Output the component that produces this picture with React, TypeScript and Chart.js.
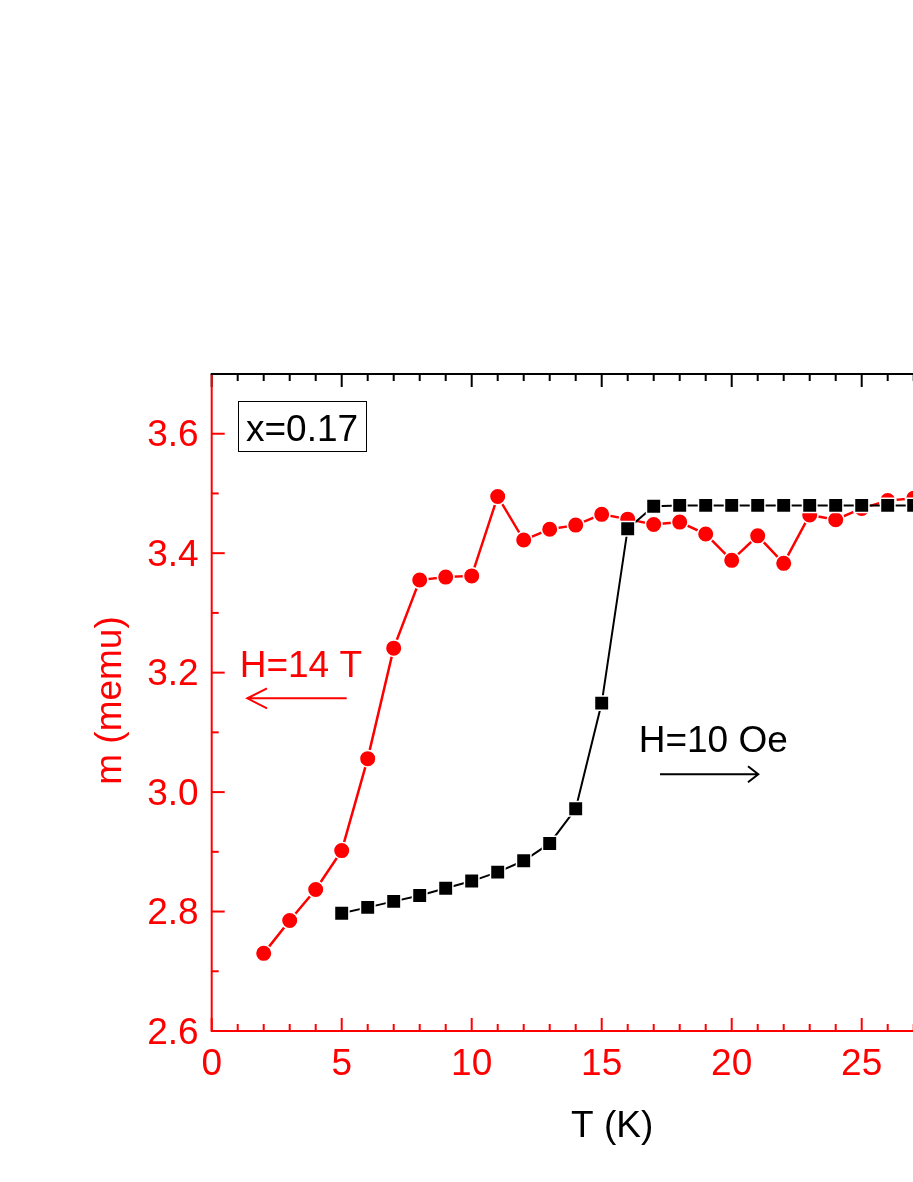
import React, { useEffect, useRef } from 'react';
import { Chart, registerables } from 'chart.js';

Chart.register(...registerables);

// ---- data ----
const temps14T = [2, 3, 4, 5, 6, 7, 8, 9, 10, 11, 12, 13, 14, 15, 16, 17, 18, 19, 20, 21, 22, 23, 24, 25, 26, 27];
const moment14T = [2.730, 2.785, 2.837, 2.902, 3.056, 3.241, 3.355, 3.360, 3.362, 3.495, 3.422, 3.440, 3.447, 3.465, 3.457, 3.448, 3.452, 3.432, 3.388, 3.429, 3.383, 3.464, 3.456, 3.475, 3.488, 3.492];

const temps10Oe = [5, 6, 7, 8, 9, 10, 11, 12, 13, 14, 15, 16, 17, 18, 19, 20, 21, 22, 23, 24, 25, 26, 27];
const moment10Oe = [2.797, 2.807, 2.817, 2.827, 2.839, 2.851, 2.866, 2.885, 2.914, 2.972, 3.149, 3.441, 3.4785, 3.480, 3.480, 3.480, 3.480, 3.480, 3.480, 3.480, 3.480, 3.480, 3.480];

const xTickValues = [0, 5, 10, 15, 20, 25, 30];
const xTickLabels = ['0', '5', '10', '15', '20', '25', '30'];
const yTickValues = [2.6, 2.8, 3.0, 3.2, 3.4, 3.6];
const yTickLabels = ['2.6', '2.8', '3.0', '3.2', '3.4', '3.6'];

const X_MIN = 0;
const X_MAX = 30;
const Y_MIN = 2.6;
const Y_MAX = 3.7;

const RED = '#ff0000';
const BLACK = '#000000';
const FONT = '"Liberation Sans", Arial, sans-serif';
const FS = 37;

const CANVAS_W = 1200;
const CANVAS_H = 1166;

const overlay = {
  id: 'overlay',
  afterDraw(chart: any) {
    const { ctx, chartArea: a, scales } = chart;
    const xs = scales.x;
    const ys = scales.y;
    ctx.save();
    ctx.lineCap = 'butt';

    // minor/major ticks (inward)
    ctx.lineWidth = 2;
    for (let v = X_MIN; v <= X_MAX + 1e-9; v += 1) {
      const px = xs.getPixelForValue(v);
      const len = Math.round(v) % 5 === 0 ? 13 : 7;
      ctx.strokeStyle = RED;
      ctx.beginPath();
      ctx.moveTo(px, a.bottom);
      ctx.lineTo(px, a.bottom - len);
      ctx.stroke();
      ctx.strokeStyle = BLACK;
      ctx.beginPath();
      ctx.moveTo(px, a.top);
      ctx.lineTo(px, a.top + len);
      ctx.stroke();
    }
    for (let i = 0; i <= 11; i++) {
      const v = Y_MIN + i * 0.1;
      const py = ys.getPixelForValue(v);
      const len = i % 2 === 0 ? 13 : 7;
      ctx.strokeStyle = RED;
      ctx.beginPath();
      ctx.moveTo(a.left, py);
      ctx.lineTo(a.left + len, py);
      ctx.stroke();
    }

    // axis lines
    ctx.lineWidth = 2;
    ctx.strokeStyle = RED;
    ctx.beginPath();
    ctx.moveTo(a.left, a.top);
    ctx.lineTo(a.left, a.bottom);
    ctx.lineTo(a.right, a.bottom);
    ctx.stroke();
    ctx.strokeStyle = BLACK;
    ctx.beginPath();
    ctx.moveTo(a.left - 1, a.top);
    ctx.lineTo(a.right, a.top);
    ctx.lineTo(a.right, a.bottom);
    ctx.stroke();

    // tick labels
    ctx.font = `${FS}px ${FONT}`;
    ctx.fillStyle = RED;
    ctx.textAlign = 'center';
    ctx.textBaseline = 'alphabetic';
    xTickValues.forEach((v, i) => {
      ctx.fillText(xTickLabels[i], xs.getPixelForValue(v), a.bottom + 44);
    });
    ctx.textAlign = 'right';
    yTickValues.forEach((v, i) => {
      ctx.fillText(yTickLabels[i], a.left - 13, ys.getPixelForValue(v) + 12.7);
    });

    // axis titles
    ctx.fillStyle = BLACK;
    ctx.textAlign = 'left';
    ctx.fillText('T (K)', 563, 1128.7);
    ctx.save();
    ctx.fillStyle = RED;
    ctx.translate(112.7, 692.5);
    ctx.rotate(-Math.PI / 2);
    ctx.textAlign = 'center';
    ctx.fillText('m (memu)', 0, 0);
    ctx.restore();

    // sample label box
    ctx.fillStyle = BLACK;
    ctx.textAlign = 'left';
    ctx.fillText('x=0.17', 238, 433);
    ctx.lineWidth = 1;
    ctx.strokeStyle = BLACK;
    ctx.strokeRect(230.5, 393.5, 128, 50);

    // field annotations
    ctx.fillStyle = RED;
    ctx.fillText('H=14 T', 231.7, 668.7);
    ctx.strokeStyle = RED;
    ctx.lineWidth = 2;
    ctx.beginPath();
    ctx.moveTo(338.7, 690.3);
    ctx.lineTo(240, 690.3);
    ctx.moveTo(259, 680.3);
    ctx.lineTo(239.3, 690.3);
    ctx.lineTo(259, 700.3);
    ctx.stroke();

    ctx.fillStyle = BLACK;
    ctx.fillText('H=10 Oe', 630.7, 743.7);
    ctx.strokeStyle = BLACK;
    ctx.beginPath();
    ctx.moveTo(652, 766.3);
    ctx.lineTo(749.5, 766.3);
    ctx.moveTo(740, 758.3);
    ctx.lineTo(750.3, 766.3);
    ctx.lineTo(740, 774.3);
    ctx.stroke();

    ctx.restore();
  },
};

export default function App() {
  const ref = useRef<HTMLCanvasElement | null>(null);

  useEffect(() => {
    if (!ref.current) return;
    const chart = new Chart(ref.current, {
      type: 'line',
      data: {
        datasets: [
          {
            label: 'H=10 Oe',
            data: temps10Oe.map((t, i) => ({ x: t, y: moment10Oe[i] })),
            yAxisID: 'y2',
            borderColor: BLACK,
            borderWidth: 2,
            backgroundColor: BLACK,
            pointStyle: 'rect',
            pointRadius: 10.2,
            pointBorderWidth: 1.5,
            pointBorderColor: '#ffffff',
            pointBackgroundColor: BLACK,
            tension: 0,
          },
          {
            label: 'H=14 T',
            data: temps14T.map((t, i) => ({ x: t, y: moment14T[i] })),
            yAxisID: 'y',
            borderColor: RED,
            borderWidth: 2.5,
            backgroundColor: RED,
            pointStyle: 'circle',
            pointRadius: 8.3,
            pointBorderWidth: 1.6,
            pointBorderColor: '#ffffff',
            pointBackgroundColor: RED,
            tension: 0,
          },
        ],
      },
      options: {
        responsive: false,
        animation: false,
        events: [],
        layout: {
          padding: {
            left: 203.7,
            top: 366,
            bottom: CANVAS_H - 1023,
            right: CANVAS_W - (203.7 + 26 * X_MAX),
          },
        },
        plugins: {
          legend: { display: false },
          tooltip: { enabled: false },
          title: { display: false },
        },
        scales: {
          x: { type: 'linear', min: X_MIN, max: X_MAX, display: false },
          y: { type: 'linear', min: Y_MIN, max: Y_MAX, display: false },
          y2: { type: 'linear', min: Y_MIN, max: Y_MAX, display: false, position: 'right' },
        },
      },
      plugins: [overlay],
    });
    return () => chart.destroy();
  }, []);

  return (
    <div style={{ position: 'fixed', left: 0, top: 0, width: 913, height: 1182, overflow: 'hidden', background: '#ffffff' }}>
      <canvas
        ref={ref}
        width={CANVAS_W}
        height={CANVAS_H}
        style={{ display: 'block', position: 'absolute', left: 8, top: 8 }}
      />
    </div>
  );
}
